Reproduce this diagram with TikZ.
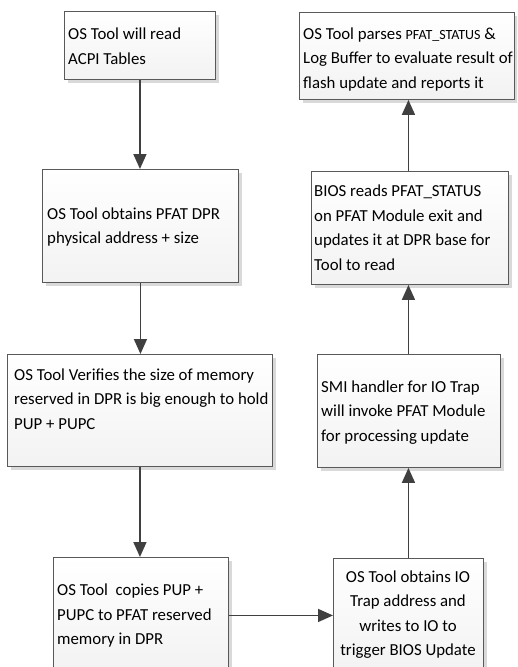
\documentclass[tikz,border=0pt]{standalone}
\usepackage{fontspec}
\setmainfont{Carlito}
\usetikzlibrary{arrows.meta,shadows}
\definecolor{edgec}{HTML}{595959}
\definecolor{arrowc}{HTML}{404040}
\definecolor{shadec}{HTML}{D9D9D9}
\tikzset{
  box/.style={rectangle, draw=edgec, line width=0.9pt, inner sep=0pt,
    top color=white, bottom color=gray!10, anchor=north west,
    drop shadow={shadow xshift=3.5pt, shadow yshift=-3.5pt, fill=shadec, opacity=1}},
  txt/.style={inner sep=0pt, align=left, font=\fontsize{16.8}{24.5}\selectfont},
  flow/.style={draw=arrowc, line width=1.6pt, -{Triangle[length=15pt,width=13pt]}}
}
\begin{document}
\begin{tikzpicture}[x=1pt, y=-1pt]
  \useasboundingbox (0,0) rectangle (517,667);
  \clip (0,0) rectangle (517,667);

  % left column: boxes
  \node[box, minimum width=151pt, minimum height=68pt] (b1) at (64,11) {};
  \node[box, minimum width=196pt, minimum height=113pt] (b2) at (42,169) {};
  \node[box, minimum width=265pt, minimum height=112pt] (b3) at (7,354) {};
  \node[box, minimum width=175pt, minimum height=116pt] (b4) at (53,557) {};

  % right column: boxes
  \node[box, minimum width=150pt, minimum height=114pt] (b5) at (333,558) {};
  \node[box, minimum width=183pt, minimum height=113pt] (b6) at (317,354) {};
  \node[box, minimum width=197pt, minimum height=113pt] (b7) at (311,171) {};
  \node[box, minimum width=215pt, minimum height=87pt] (b8) at (299,12) {};

  % texts
  \node[txt, anchor=west] (t1) at (68,46) {OS Tool will read\\ACPI Tables};
  \node[txt, anchor=west] (t2) at (47,227) {OS Tool obtains PFAT DPR\\physical address + size};
  \node[txt, anchor=west] (t3) at (14,399) {OS Tool Verifies the size of memory\\reserved in DPR is big enough to hold\\PUP + PUPC};
  \node[txt, anchor=west] (t4) at (57,616) {OS Tool\ \ copies PUP +\\PUPC to PFAT reserved\\memory in DPR};
  \node[txt, align=center] (t5) at (408,614.5) {OS Tool obtains IO\\Trap address and\\writes to IO to\\trigger BIOS Update};
  \node[txt, anchor=west] (t6) at (321,412.5) {SMI handler for IO Trap\\will invoke PFAT Module\\for processing update};
  \node[txt, anchor=west] (t7) at (314,227.5) {BIOS reads PFAT\_STATUS\\on PFAT Module exit and\\updates it at DPR base for\\Tool to read};
  \node[txt, anchor=west] (t8) at (303,59.5) {OS Tool parses {\fontsize{14}{24.5}\selectfont PFAT\_STATUS} \&\\Log Buffer to evaluate result of\\flash update and reports it};

  % connectors
  \draw[flow] (b1.south) -- (b1.south |- b2.north);
  \draw[flow] (b2.south) -- (b2.south |- b3.north);
  \draw[flow] (b3.south) -- (b3.south |- b4.north);
  \draw[flow] (b4.east) -- (b4.east -| b5.west);
  \draw[flow] (b5.north) -- (b5.north |- b6.south);
  \draw[flow] (b5.north |- b6.north) -- (b5.north |- b7.south);
  \draw[flow] (b5.north |- b7.north) -- (b5.north |- b8.south);
\end{tikzpicture}
\end{document}
